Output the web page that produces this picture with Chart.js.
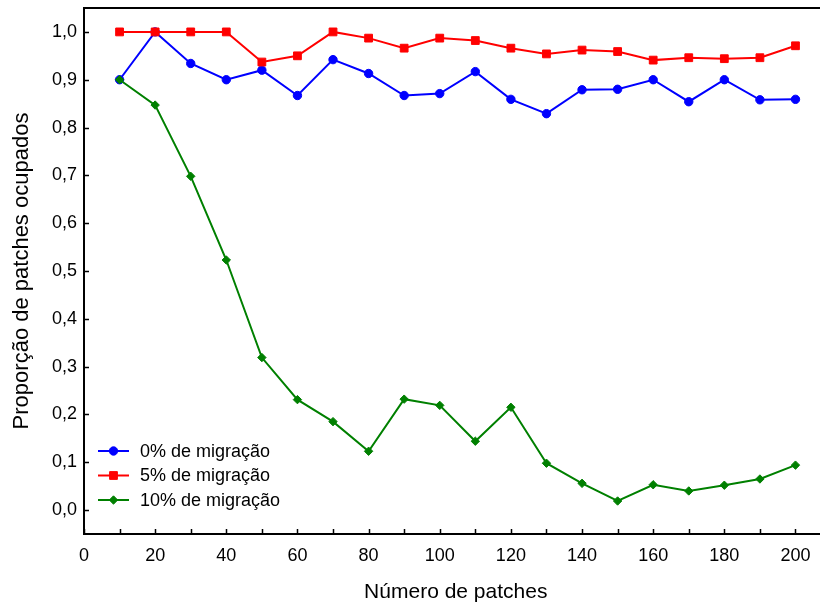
<!DOCTYPE html>
<html lang="pt">
<head>
<meta charset="utf-8">
<title>Proporção de patches ocupados</title>
<script src="https://cdn.jsdelivr.net/npm/chart.js@4.4.0/dist/chart.umd.min.js"></script>
<style>
  html, body { margin: 0; padding: 0; background: #fff; overflow: hidden; }
  #wrap { position: relative; width: 834px; height: 608px; }
</style>
</head>
<body>
<div id="wrap"><canvas id="chart"></canvas></div>
<script>
(function () {
    // data
    const patches = [10, 20, 30, 40, 50, 60, 70, 80, 90, 100, 110, 120, 130, 140, 150, 160, 170, 180, 190, 200];
    const mig0 = [0.900, 1.000, 0.934, 0.900, 0.920, 0.867, 0.942, 0.913, 0.867, 0.871, 0.917, 0.859, 0.829, 0.879, 0.880, 0.900, 0.854, 0.900, 0.858, 0.859];
    const mig5 = [1.000, 1.000, 1.000, 1.000, 0.937, 0.950, 1.000, 0.987, 0.966, 0.987, 0.982, 0.966, 0.954, 0.962, 0.959, 0.941, 0.946, 0.944, 0.946, 0.971];
    const mig10 = [0.900, 0.847, 0.698, 0.523, 0.319, 0.231, 0.185, 0.123, 0.232, 0.219, 0.144, 0.215, 0.098, 0.056, 0.019, 0.053, 0.040, 0.052, 0.065, 0.094];
    const seriesNames = ['0% de migração', '5% de migração', '10% de migração'];

    const xTicks = [0, 20, 40, 60, 80, 100, 120, 140, 160, 180, 200];
    const xMinorTicks = [0, 10, 20, 30, 40, 50, 60, 70, 80, 90, 100, 110, 120, 130, 140, 150, 160, 170, 180, 190, 200];
    const yTicks = [0, 0.1, 0.2, 0.3, 0.4, 0.5, 0.6, 0.7, 0.8, 0.9, 1.0];

    const FONT = 'Liberation Sans, Arial, sans-serif';

    function pts(ys) {
        return patches.map((x, i) => ({ x: x, y: ys[i] }));
    }

    // top border line + small inward tick marks
    const frame = {
        id: 'frame',
        afterDraw(chart) {
            const { ctx, chartArea: a, scales } = chart;
            ctx.save();
            ctx.strokeStyle = '#000';
            ctx.lineWidth = 2;
            ctx.beginPath();
            ctx.moveTo(a.left - 1, a.top);
            ctx.lineTo(a.right, a.top);
            ctx.stroke();
            ctx.lineWidth = 1.5;
            ctx.beginPath();
            xMinorTicks.forEach(v => {
                const px = Math.round(scales.x.getPixelForValue(v)) + 0.5;
                ctx.moveTo(px, a.bottom);
                ctx.lineTo(px, a.bottom - 5);
            });
            yTicks.forEach(v => {
                const py = Math.round(scales.y.getPixelForValue(v)) + 0.5;
                ctx.moveTo(a.left, py);
                ctx.lineTo(a.left + 5, py);
            });
            ctx.stroke();
            ctx.restore();
        }
    };

    // legend inside the plot, lower left
    const insideLegend = {
        id: 'insideLegend',
        afterDraw(chart) {
            const { ctx, chartArea: a } = chart;
            const x0 = a.left + 14, y0 = 451, rowH = 24.5, lineLen = 31;
            ctx.save();
            chart.data.datasets.forEach((ds, i) => {
                const y = y0 + i * rowH;
                ctx.strokeStyle = ds.borderColor;
                ctx.lineWidth = 2;
                ctx.beginPath();
                ctx.moveTo(x0, y);
                ctx.lineTo(x0 + lineLen, y);
                ctx.stroke();
                ctx.fillStyle = ds.pointBackgroundColor;
                ctx.strokeStyle = ds.pointBorderColor;
                ctx.lineWidth = 1;
                Chart.helpers.drawPoint(ctx, {
                    pointStyle: ds.pointStyle,
                    radius: ds.pointRadius,
                    borderWidth: 1,
                    rotation: 0
                }, x0 + lineLen / 2, y);
                ctx.fillStyle = '#000';
                ctx.font = '18px ' + FONT;
                ctx.textAlign = 'left';
                ctx.textBaseline = 'middle';
                ctx.fillText(ds.label, x0 + lineLen + 11, y + 1);
            });
            ctx.restore();
        }
    };

    function series(label, ys, color, style, radius, order) {
        return {
            label: label,
            data: pts(ys),
            borderColor: color,
            backgroundColor: color,
            pointBackgroundColor: color,
            pointBorderColor: color,
            pointBorderWidth: 1,
            pointStyle: style,
            pointRadius: radius,
            pointHoverRadius: radius,
            borderWidth: 2,
            tension: 0,
            order: order
        };
    }

    new Chart(document.getElementById('chart'), {
        type: 'line',
        data: {
            datasets: [
                series(seriesNames[0], mig0, '#0000ff', 'circle', 4.2, 2),
                series(seriesNames[1], mig5, '#ff0000', 'rect', 5.5, 1),
                series(seriesNames[2], mig10, '#008000', 'rectRot', 4.2, 0)
            ]
        },
        options: {
            responsive: true,
            maintainAspectRatio: false,
            animation: false,
            layout: { padding: { left: 0, top: 8, right: 2, bottom: 0 } },
            plugins: {
                legend: { display: false },
                tooltip: { enabled: false }
            },
            scales: {
                x: {
                    type: 'linear',
                    min: 0,
                    max: 209,
                    afterBuildTicks: s => { s.ticks = xTicks.map(v => ({ value: v })); },
                    afterFit: s => { s.height = 74; s.paddingLeft = 0; s.paddingRight = 0; },
                    grid: { display: false, drawTicks: false },
                    border: { display: true, color: '#000', width: 2 },
                    ticks: {
                        color: '#000',
                        padding: 11,
                        maxRotation: 0,
                        autoSkip: false,
                        font: { family: FONT, size: 18 }
                    },
                    title: {
                        display: true,
                        text: 'Número de patches',
                        color: '#000',
                        font: { family: FONT, size: 21 },
                        padding: { top: 0, bottom: 3 }
                    }
                },
                y: {
                    min: -0.05,
                    max: 1.05,
                    afterBuildTicks: s => { s.ticks = yTicks.map(v => ({ value: v })); },
                    afterFit: s => { s.width = 84; s.paddingTop = 0; s.paddingBottom = 0; },
                    grid: { display: false, drawTicks: false },
                    border: { display: true, color: '#000', width: 2 },
                    ticks: {
                        color: '#000',
                        padding: 7,
                        autoSkip: false,
                        font: { family: FONT, size: 18 },
                        callback: v => v.toFixed(1).replace('.', ',')
                    },
                    title: {
                        display: true,
                        text: 'Proporção de patches ocupados',
                        color: '#000',
                        font: { family: FONT, size: 22 },
                        padding: { top: 9, bottom: 0 }
                    }
                }
            }
        },
        plugins: [frame, insideLegend]
    });
})();
</script>
</body>
</html>
